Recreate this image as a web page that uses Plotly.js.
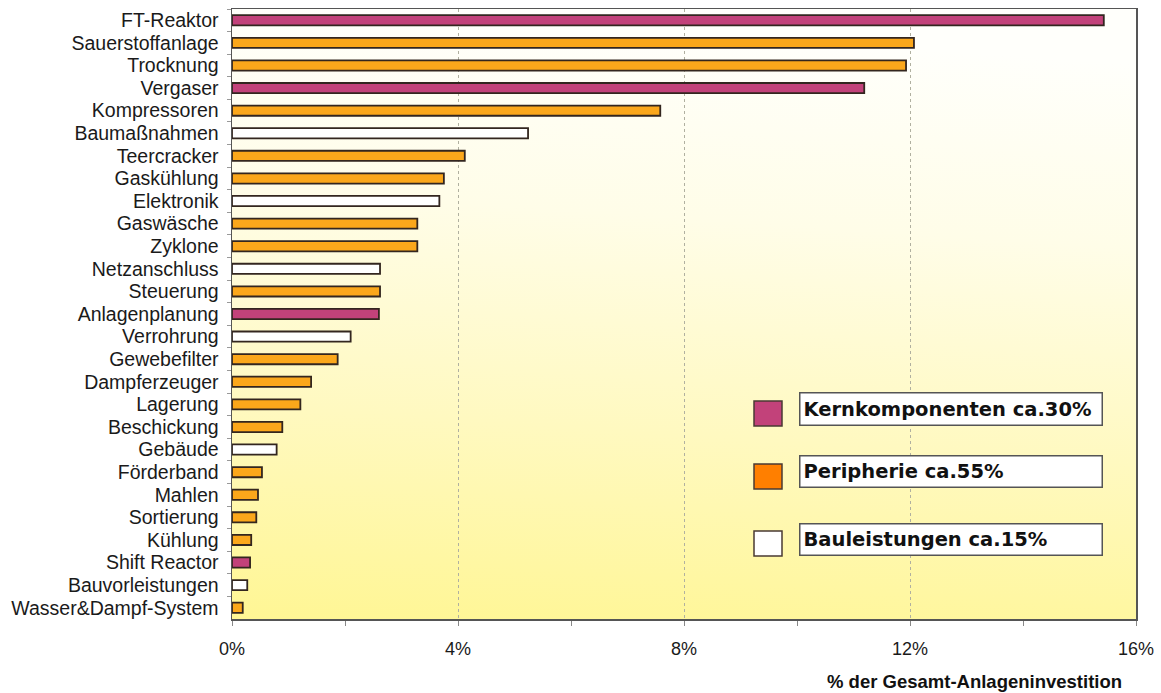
<!DOCTYPE html>
<html>
<head>
<meta charset="utf-8">
<script src="https://cdn.plot.ly/plotly-3.0.1.min.js"></script>
<style>html,body{margin:0;padding:0;background:#fff;}#chart{width:1161px;height:693px;}</style>
</head>
<body>
<div id="chart"></div>
<script>
// ---- data ----
const categories = ["FT-Reaktor","Sauerstoffanlage","Trocknung","Vergaser","Kompressoren","Baumaßnahmen","Teercracker","Gaskühlung","Elektronik","Gaswäsche","Zyklone","Netzanschluss","Steuerung","Anlagenplanung","Verrohrung","Gewebefilter","Dampferzeuger","Lagerung","Beschickung","Gebäude","Förderband","Mahlen","Sortierung","Kühlung","Shift Reactor","Bauvorleistungen","Wasser&Dampf-System"];
const values = [15.43,12.07,11.93,11.19,7.58,5.24,4.12,3.75,3.67,3.28,3.28,2.62,2.62,2.60,2.10,1.87,1.40,1.21,0.89,0.79,0.53,0.46,0.43,0.34,0.32,0.27,0.19];
// group: K = Kernkomponenten, P = Peripherie, B = Bauleistungen
const groups = ["K","P","P","K","P","B","P","P","B","P","P","B","P","K","B","P","P","P","P","B","P","P","P","P","K","B","P"];
const groupKeys = ["K","P","B"];
const groupLabels = ["Kernkomponenten ca.30%","Peripherie ca.55%","Bauleistungen ca.15%"];
const barColors = {K:"#C2427A", P:"#FBA71B", B:"#FFFFFF"};
const legendColors = {K:"#C2427A", P:"#FF7F00", B:"#FFFFFF"};
const xTickVals = [0,4,8,12,16];
const xTickText = ["0%","4%","8%","12%","16%"];
const xTitle = "% der Gesamt-Anlageninvestition";

// ---- layout geometry ----
const W = 1161, H = 693;
const M = {l:232, r:25, t:9, b:74};
const PW = W - M.l - M.r, PH = H - M.t - M.b;
const px2x = p => (p - M.l) / PW;
const px2y = p => (H - M.b - p) / PH;

const trace = {
  type: "bar",
  orientation: "h",
  y: categories,
  x: values,
  marker: {color: groups.map(g => barColors[g]), line: {color: "#33261f", width: 1.8}},
  width: 0.45,
  hoverinfo: "y+x",
  showlegend: false
};

// background gradient as image
const gradSvg = '<svg xmlns="http://www.w3.org/2000/svg" width="100" height="100" preserveAspectRatio="none">' +
  '<defs><linearGradient id="g" x1="0.1" y1="0" x2="0" y2="1">' +
  '<stop offset="0" stop-color="#FFFFFB"/><stop offset="0.3" stop-color="#FFFDE8"/>' +
  '<stop offset="0.65" stop-color="#FFF9C0"/><stop offset="1" stop-color="#FFF694"/></linearGradient></defs>' +
  '<rect width="100" height="100" fill="url(#g)"/></svg>';
const gradUri = "data:image/svg+xml;base64," + btoa(gradSvg);

// legend pieces
const sqX0 = 754, sqX1 = 782;
const sqYs = [[401,426],[464,489],[531,556]];
const boxX0 = 799, boxX1 = 1103;
const boxYs = [[392,426],[455,488],[523,556]];
const shapes = [];
const annotations = [];
groupKeys.forEach((k, i) => {
  shapes.push({type:"rect", xref:"paper", yref:"paper",
    x0:px2x(sqX0), x1:px2x(sqX1), y0:px2y(sqYs[i][1]), y1:px2y(sqYs[i][0]),
    fillcolor:legendColors[k], line:{color:"#4a3a33", width:1.5}, layer:"above"});
  annotations.push({xref:"paper", yref:"paper", x:px2x(boxX0), y:px2y((boxYs[i][0]+boxYs[i][1])/2),
    xanchor:"left", yanchor:"middle", text:"<b>"+groupLabels[i]+"</b>", showarrow:false,
    align:"left", width:(boxX1-boxX0)-9, height:(boxYs[i][1]-boxYs[i][0])-9, borderpad:3,
    bgcolor:"#FFFFFF", bordercolor:"#555", borderwidth:1.5,
    font:{family:"DejaVu Sans", size:19.5, color:"#111"}});
});
annotations.push({xref:"paper", yref:"paper", x:px2x(1124), y:px2y(681), xanchor:"right", yanchor:"middle",
  text:"<b>"+xTitle+"</b>", showarrow:false, font:{family:"Liberation Sans, Arial", size:18.5, color:"#111"}});

const layout = {
  width: W, height: H,
  margin: M,
  paper_bgcolor: "#FFFFFF",
  plot_bgcolor: "rgba(0,0,0,0)",
  font: {family: "Liberation Sans, Arial, sans-serif", color: "#1a1a1a"},
  images: [{source: gradUri, xref:"paper", yref:"paper", x:0, y:1, sizex:1, sizey:1,
    sizing:"stretch", xanchor:"left", yanchor:"top", layer:"below"}],
  xaxis: {
    range: [0, 16], tickvals: xTickVals, ticktext: xTickText,
    showgrid: true, gridcolor: "#b0b0a0", griddash: "dot", gridwidth: 1,
    zeroline: false, showline: true, mirror: true, linecolor: "#555", linewidth: 1.5,
    ticks: "outside", ticklen: 5, tickcolor: "#888",
    minor: {dtick: 2, tick0: 0, ticks: "outside", ticklen: 5, tickcolor: "#888", showgrid: false},
    tickfont: {size: 18, color: "#1a1a1a"}, ticklabelstandoff: 8,
    fixedrange: true
  },
  yaxis: {
    type: "category", autorange: "reversed",
    tickmode: "linear", tick0: 0, dtick: 1,
    showgrid: false, zeroline: false, showline: true, mirror: true, linecolor: "#555", linewidth: 1.5,
    ticks: "outside", tickson: "boundaries", ticklen: 4, tickcolor: "#999",
    tickfont: {size: 19.5, color: "#1a1a1a"}, ticklabelstandoff: 8,
    fixedrange: true
  },
  shapes: shapes,
  annotations: annotations,
  showlegend: false
};

Plotly.newPlot("chart", [trace], layout, {displayModeBar: false, staticPlot: true});
</script>
</body>
</html>
